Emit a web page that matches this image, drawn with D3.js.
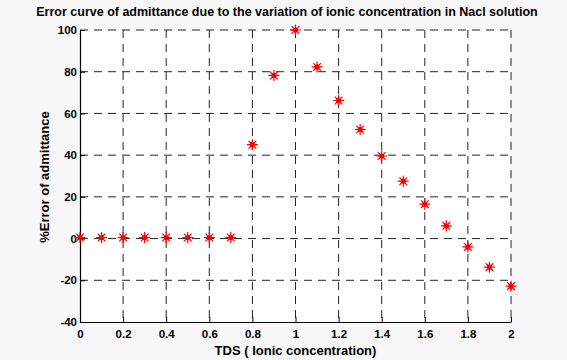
<!DOCTYPE html>
<html>
<head>
<meta charset="utf-8">
<script src="https://cdn.jsdelivr.net/npm/d3@7"></script>
<style>
  body { margin: 0; background: #f7f7f7; }
  svg { display: block; font-family: "Liberation Sans", Arial, sans-serif; }
</style>
</head>
<body>
<div id="chart"></div>
<script>
const tds = [0, 0.1, 0.2, 0.3, 0.4, 0.5, 0.6, 0.7, 0.8, 0.9, 1.0, 1.1, 1.2, 1.3, 1.4, 1.5, 1.6, 1.7, 1.8, 1.9, 2.0];
const errorPct = [0.5, 0.5, 0.5, 0.5, 0.5, 0.5, 0.5, 0.5, 45, 78.2, 100, 82.3, 66.2, 52.3, 39.6, 27.5, 16.5, 6.1, -4, -13.7, -22.8];
const xTicks = [0, 0.2, 0.4, 0.6, 0.8, 1, 1.2, 1.4, 1.6, 1.8, 2];
const yTicks = [-40, -20, 0, 20, 40, 60, 80, 100];

const W = 567, H = 360;
const margin = { top: 30, right: 56, bottom: 38, left: 80 };
const width = W - margin.left - margin.right;
const height = H - margin.top - margin.bottom;

const root = d3.select("#chart").append("svg")
    .attr("width", W)
    .attr("height", H);

root.append("rect").attr("width", W).attr("height", H).attr("fill", "#f7f7f7");

const svg = root.append("g")
    .attr("transform", `translate(${margin.left},${margin.top})`);

const x = d3.scaleLinear().domain([0, 2]).range([0, width]);
const y = d3.scaleLinear().domain([-40, 100]).range([height, 0]);

svg.append("rect")
    .attr("width", width)
    .attr("height", height)
    .attr("fill", "#fff");

// dashed grid
svg.append("g").selectAll("line")
    .data(xTicks.slice(1))
    .join("line")
    .attr("x1", d => x(d)).attr("x2", d => x(d))
    .attr("y1", 0).attr("y2", height)
    .attr("stroke", "#222")
    .attr("stroke-width", 1)
    .attr("stroke-dasharray", "8,6");

svg.append("g").selectAll("line")
    .data(yTicks.slice(1))
    .join("line")
    .attr("x1", 0).attr("x2", width)
    .attr("y1", d => y(d)).attr("y2", d => y(d))
    .attr("stroke", "#222")
    .attr("stroke-width", 1)
    .attr("stroke-dasharray", "8,6");

// axes (plain hyphen for negatives, like the original)
const fmt = d => String(d);
const xAxis = svg.append("g")
    .attr("transform", `translate(0,${height})`)
    .call(d3.axisBottom(x).tickValues(xTicks).tickSizeInner(-5).tickSizeOuter(0).tickPadding(8).tickFormat(fmt));

const yAxis = svg.append("g")
    .call(d3.axisLeft(y).tickValues(yTicks).tickSizeInner(-5).tickSizeOuter(0).tickPadding(3).tickFormat(fmt));

[xAxis, yAxis].forEach(a => {
    a.select(".domain").attr("stroke", "#000").attr("stroke-width", 1.2);
    a.selectAll(".tick line").attr("stroke", "#000");
    a.selectAll("text")
        .attr("fill", "#000")
        .style("font-size", "11.5px")
        .style("font-weight", "bold")
        .style("font-family", "Liberation Sans, Arial, sans-serif");
});

// markers: asterisk with dot
const pts = svg.append("g").selectAll("g")
    .data(tds.map((t, i) => ({ t, v: errorPct[i] })))
    .join("g")
    .attr("transform", d => `translate(${x(d.t)},${y(d.v)})`);

const r = 5.5;
pts.append("path")
    .attr("d", `M${-r},0L${r},0M0,${-r}L0,${r}M${-r * 0.7},${-r * 0.7}L${r * 0.7},${r * 0.7}M${-r * 0.7},${r * 0.7}L${r * 0.7},${-r * 0.7}`)
    .attr("stroke", "#f00")
    .attr("stroke-width", 1.2)
    .attr("fill", "none");
pts.append("circle")
    .attr("r", 2.6)
    .attr("fill", "#f00");

// labels
root.append("text")
    .attr("x", 287)
    .attr("y", 16)
    .attr("text-anchor", "middle")
    .style("font-size", "12.5px")
    .style("font-weight", "bold")
    .text("Error curve of admittance due to the variation of ionic concentration in Nacl solution");

root.append("text")
    .attr("x", margin.left + width / 2)
    .attr("y", 355)
    .attr("text-anchor", "middle")
    .style("font-size", "13px")
    .style("font-weight", "bold")
    .text("TDS ( Ionic concentration)");

root.append("text")
    .attr("transform", `translate(49,177) rotate(-90)`)
    .attr("text-anchor", "middle")
    .style("font-size", "13px")
    .style("font-weight", "bold")
    .text("%Error of admittance");
</script>
</body>
</html>
